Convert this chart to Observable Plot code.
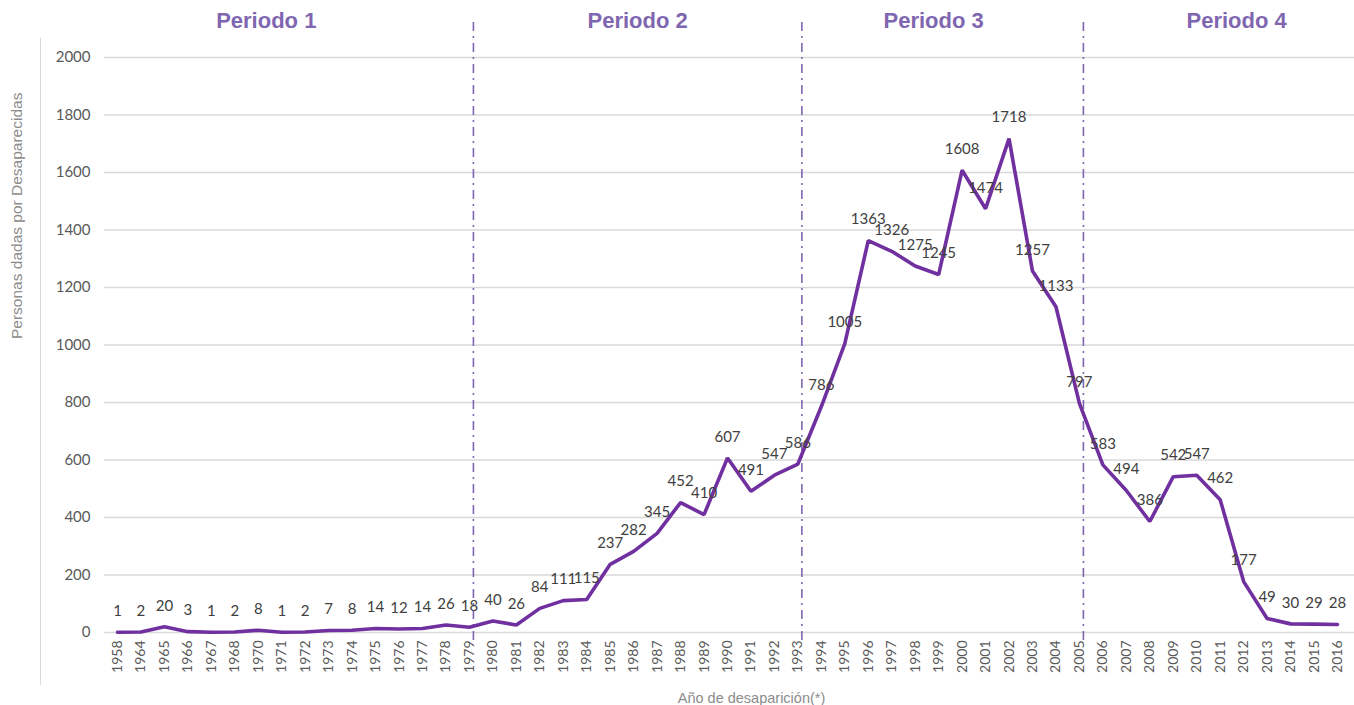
<!DOCTYPE html>
<html>
<head>
<meta charset="utf-8">
<script src="https://cdn.jsdelivr.net/npm/d3@7"></script>
<script src="https://cdn.jsdelivr.net/npm/@observablehq/plot@0.6"></script>
<style>
  body { margin: 0; background: #fff; }
  #wrap { position: relative; width: 1354px; height: 705px; }
  #frame { position: absolute; left: 40px; top: 38px; height: 647px; border-left: 1px solid #d9d9d9; }
</style>
</head>
<body>
<div id="wrap"><div id="frame"></div></div>
<script>
const years = ["1958","1964","1965","1966","1967","1968","1970","1971","1972","1973","1974","1975","1976","1977","1978","1979","1980","1981","1982","1983","1984","1985","1986","1987","1988","1989","1990","1991","1992","1993","1994","1995","1996","1997","1998","1999","2000","2001","2002","2003","2004","2005","2006","2007","2008","2009","2010","2011","2012","2013","2014","2015","2016"];
const counts = [1,2,20,3,1,2,8,1,2,7,8,14,12,14,26,18,40,26,84,111,115,237,282,345,452,410,607,491,547,586,786,1005,1363,1326,1275,1245,1608,1474,1718,1257,1133,797,583,494,386,542,547,462,177,49,30,29,28];
const yTicks = [0,200,400,600,800,1000,1200,1400,1600,1800,2000];
const dividerYears = ["1979","1993","2005"];
const periodNames = ["Periodo 1","Periodo 2","Periodo 3","Periodo 4"];
const periodAnchorYears = ["1970","1986","1999","2012"];
const yLabel = "Personas dadas por Desaparecidas";
const xLabel = "Año de desaparición(*)";

const idx = y => years.indexOf(y);
const data = years.map((y, i) => ({i, year: y, value: counts[i]}));
const periodDx = [8, 4, -5, -7];
const periodMarks = periodNames.map((n, k) =>
  Plot.text([{name: n, i: idx(periodAnchorYears[k])}], {
    x: "i", text: "name", frameAnchor: "top", lineAnchor: "middle", dy: -37, dx: periodDx[k],
    fontSize: 22, fontWeight: "bold", fill: "#7f66b0", fontFamily: "'Liberation Sans', Arial, sans-serif"
  })
);

const chart = Plot.plot({
  width: 1354,
  height: 705,
  marginLeft: 104,
  marginRight: 0,
  marginTop: 57,
  marginBottom: 73,
  style: {fontFamily: "Lato, 'Open Sans', sans-serif", background: "transparent", overflow: "visible"},
  x: {type: "linear", domain: [-0.554, years.length - 1 + 0.725]},
  y: {domain: [0, 2000]},
  marks: [
    Plot.gridY(yTicks, {stroke: "#d9d9d9", strokeOpacity: 1, strokeWidth: 1.3}),
    Plot.axisY(yTicks, {tickSize: 0, tickPadding: 14, fontSize: 15, color: "#595959", label: null, tickFormat: d => String(d)}),
    Plot.axisX(d3.range(years.length), {tickRotate: -90, tickSize: 0, tickPadding: 8, fontSize: 14, color: "#595959", label: null, tickFormat: i => years[i]}),
    Plot.ruleX(dividerYears.map(idx), {y1: -28, y2: 2135, dx: 4, stroke: "#7f66b0", strokeWidth: 1.6, strokeDasharray: "9,5,2,5"}),
    Plot.line(data, {x: "i", y: "value", stroke: "#7030A0", strokeWidth: 3.6, strokeLinejoin: "miter"}),
    Plot.text(data, {x: "i", y: "value", text: d => String(d.value), dy: -21, fontSize: 15, fill: "#404040"}),
    ...periodMarks,
    Plot.text([yLabel], {frameAnchor: "left", dx: -87, dy: -6, rotate: -90, fontSize: 15.5, fill: "#8c8c8c", fontFamily: "'Liberation Sans', Arial, sans-serif"}),
    Plot.text([xLabel], {frameAnchor: "bottom", dx: 22, dy: 70, fontSize: 14.5, fill: "#8c8c8c", fontFamily: "'Liberation Sans', Arial, sans-serif"})
  ]
});
document.getElementById("wrap").appendChild(chart);
chart.style.position = "absolute";
chart.style.left = "0";
chart.style.top = "0";
</script>
</body>
</html>
